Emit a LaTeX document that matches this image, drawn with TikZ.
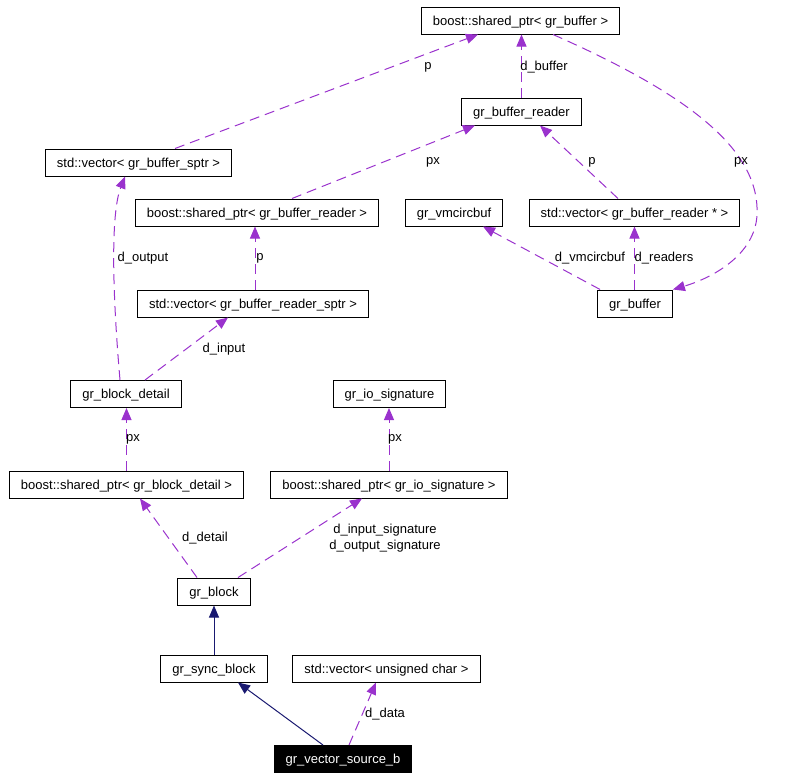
\documentclass[tikz,border=0pt]{standalone}
\usepackage{fontspec}
\setmainfont{Liberation Sans}
\usetikzlibrary{arrows.meta}
\definecolor{purp}{RGB}{154,50,205}
\definecolor{navy}{RGB}{25,25,112}
\newcommand{\fs}{\fontsize{13}{16}\selectfont}
\tikzset{
cls/.style={draw=black,line width=1pt,fill=white,inner xsep=11.5pt,inner ysep=0pt,minimum height=27pt,text height=9.4pt,text depth=0pt,font=\fs},
cur/.style={cls,fill=black,text=white},
lbl/.style={inner sep=0pt,font=\fs,align=center},
use/.style={draw=purp,line width=1pt,dash pattern=on 10pt off 6pt,-{Triangle[length=12pt,width=10pt]}},
inh/.style={draw=navy,line width=1pt,-{Triangle[length=12pt,width=10pt]}}
}

\begin{document}
\begin{tikzpicture}[x=1pt,y=-1pt]
\useasboundingbox (0,0) rectangle (800,780);
\node[cls] (bsb) at (520.5,20.5) {boost::shared\_ptr< gr\_buffer >};
\node[cls] (rdr) at (521.5,111.5) {gr\_buffer\_reader};
\node[cls] (vbs) at (138.5,162.5) {std::vector< gr\_buffer\_sptr >};
\node[cls] (bsr) at (257,212.5) {boost::shared\_ptr< gr\_buffer\_reader >};
\node[cls] (vmc) at (454,212.5) {gr\_vmcircbuf};
\node[cls] (vbr) at (634.5,212.5) {std::vector< gr\_buffer\_reader * >};
\node[cls] (vbrs) at (253,303.5) {std::vector< gr\_buffer\_reader\_sptr >};
\node[cls] (buf) at (635,303.5) {gr\_buffer};
\node[cls] (blkd) at (126,394) {gr\_block\_detail};
\node[cls] (io) at (389.5,394) {gr\_io\_signature};
\node[cls] (bsd) at (126.5,484.5) {boost::shared\_ptr< gr\_block\_detail >};
\node[cls] (bsio) at (389,484.5) {boost::shared\_ptr< gr\_io\_signature >};
\node[cls] (blk) at (214,591.5) {gr\_block};
\node[cls] (sync) at (214,668.5) {gr\_sync\_block};
\node[cls] (vuc) at (386.5,668.5) {std::vector< unsigned char >};
\node[cur] (src) at (343,759) {gr\_vector\_source\_b};

\draw[use] ([xshift=36.5pt]vbs.north) -- ([xshift=-42.5pt]bsb.south);
\draw[use] (rdr.north) -- (rdr.north |- bsb.south);
\draw[use] ([xshift=35pt]bsr.north) -- ([xshift=-46.5pt]rdr.south);
\draw[use] ([xshift=-16.5pt]vbr.north) -- ([xshift=18.5pt]rdr.south);
\draw[use] ([xshift=32.5pt]bsb.south) .. controls (690,95) and (760,150) .. (757,215) .. controls (755,255) and (712,278) .. (buf.north east);
\draw[use] ([xshift=3pt]buf.north west) -- ([xshift=29pt]vmc.south);
\draw[use] (buf.north -| vbr.south) -- (vbr.south);
\draw[use] ([xshift=2pt]vbrs.north) -- ([xshift=-2pt]bsr.south);
\draw[use] ([xshift=-6pt]blkd.north) .. controls (113,300) and (110,215) .. ([xshift=-13.5pt]vbs.south);
\draw[use] ([xshift=19pt]blkd.north) -- ([xshift=-25pt]vbrs.south);
\draw[use] (bsd.north) -- (bsd.north |- blkd.south);
\draw[use] (bsio.north) -- (bsio.north |- io.south);
\draw[use] ([xshift=-17pt]blk.north) -- ([xshift=13.5pt]bsd.south);
\draw[use] ([xshift=24pt]blk.north) -- ([xshift=-27pt]bsio.south);
\draw[inh] (sync.north) -- (blk.south);
\draw[inh] ([xshift=-20pt]src.north) -- ([xshift=24pt]sync.south);
\draw[use] ([xshift=6pt]src.north) -- ([xshift=-10.5pt]vuc.south);

\node[lbl] (l1) at (428,67) {p};
\node[lbl] (l2) at (544,67) {d\_buffer};
\node[lbl] (l3) at (433,162) {px};
\node[lbl] (l4) at (592,162) {p};
\node[lbl] (l5) at (741,162) {px};
\node[lbl] (l6) at (590,258) {d\_vmcircbuf};
\node[lbl] (l7) at (664,258) {d\_readers};
\node[lbl] (l8) at (260,258) {p};
\node[lbl] (l9) at (143,258) {d\_output};
\node[lbl] (l10) at (224,349) {d\_input};
\node[lbl] (l11) at (133,439) {px};
\node[lbl] (l12) at (395,439) {px};
\node[lbl] (l13) at (205,538) {d\_detail};
\node[lbl] (l14) at (385,538) {d\_input\_signature\\d\_output\_signature};
\node[lbl] (l15) at (385,714) {d\_data};
\end{tikzpicture}
\end{document}
